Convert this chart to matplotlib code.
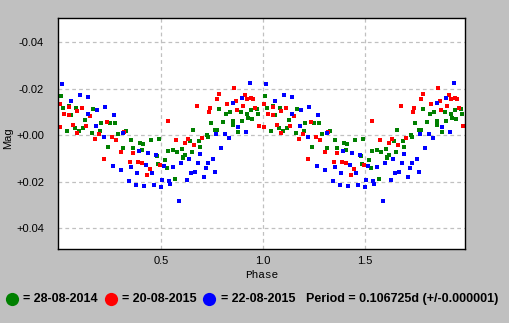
import numpy as np
import matplotlib.pyplot as plt
from matplotlib.lines import Line2D

# phase-folded photometry, one cycle per series (drawn twice, 0-1 and 1-2)
green_phase = [0.011, 0.021, 0.048, 0.085, 0.059, 0.041, 0.080, 0.098, 0.119, 0.129,
               0.168, 0.204, 0.163, 0.201, 0.251, 0.276, 0.288, 0.328, 0.242, 0.315,
               0.353, 0.364, 0.399, 0.413, 0.407, 0.452, 0.492, 0.480, 0.521, 0.536,
               0.560, 0.577, 0.601, 0.609, 0.616, 0.653, 0.655, 0.688, 0.693, 0.727,
               0.732, 0.765, 0.776, 0.747, 0.786, 0.804, 0.817, 0.840, 0.851, 0.851,
               0.877, 0.891, 0.897, 0.922, 0.928, 0.943, 0.948, 0.977, 0.971, 0.485,
               0.528, 0.570, 0.606, 0.642]
green_mag = [-0.0170, -0.0119, -0.0126, -0.0119, -0.0089, -0.0020, -0.0030, -0.0020, -0.0033, -0.0067,
             -0.0114, -0.0054, -0.0011, -0.0020, -0.0054, -0.0054, -0.0007, -0.0020, 0.0049, 0.0053,
             0.0019, 0.0053, 0.0032, 0.0036, 0.0062, 0.0019, 0.0015, 0.0088, 0.0105, 0.0066,
             0.0062, 0.0071, 0.0058, 0.0092, 0.0083, 0.0071, -0.0024, 0.0023, 0.0049, -0.0003,
             0.0006, -0.0024, -0.0024, -0.0054, -0.0114, -0.0058, -0.0093, -0.0102, -0.0063, -0.0046,
             -0.0015, -0.0102, -0.0063, -0.0093, -0.0076, -0.0110, -0.0071, -0.0093, -0.0114, 0.0122,
             0.0139, 0.0187, 0.0096, 0.0025]

red_phase = [0.006, 0.005, 0.026, 0.048, 0.050, 0.088, 0.113, 0.153, 0.069, 0.090,
             0.132, 0.178, 0.196, 0.235, 0.261, 0.281, 0.320, 0.302, 0.364, 0.221,
             0.534, 0.575, 0.619, 0.634, 0.660, 0.678, 0.701, 0.740, 0.737, 0.775,
             0.786, 0.825, 0.858, 0.868, 0.874, 0.910, 0.903, 0.922, 0.943, 0.950,
             0.961, 0.982, 0.348, 0.387, 0.408, 0.431, 0.445, 0.495]
red_mag = [-0.0136, -0.0037, -0.0093, -0.0089, -0.0123, -0.0106, -0.0119, -0.0084, -0.0046, -0.0011,
           -0.0041, 0.0015, -0.0007, -0.0058, 0.0006, 0.0019, -0.0015, 0.0071, 0.0075, 0.0101,
           -0.0063, 0.0019, 0.0032, 0.0015, 0.0040, -0.0127, 0.0010, -0.0119, -0.0102, -0.0157,
           -0.0179, -0.0136, -0.0205, -0.0149, -0.0110, -0.0175, -0.0127, -0.0157, -0.0162, -0.0157,
           -0.0119, -0.0041, 0.0114, 0.0114, 0.0118, 0.0169, 0.0144, 0.0126]

blue_phase = [0.015, 0.104, 0.059, 0.144, 0.227, 0.144, 0.188, 0.271, 0.183, 0.222,
              0.312, 0.394, 0.438, 0.477, 0.936, 0.899, 0.854, 0.879, 0.918, 0.770,
              0.815, 0.835, 0.794, 0.691, 0.639, 0.756, 0.266, 0.304, 0.353, 0.382,
              0.345, 0.377, 0.417, 0.426, 0.456, 0.466, 0.500, 0.505, 0.515, 0.541,
              0.546, 0.557, 0.598, 0.588, 0.626, 0.647, 0.667, 0.681, 0.711, 0.721,
              0.732, 0.765]
blue_mag = [-0.0222, -0.0175, -0.0149, -0.0166, -0.0123, -0.0093, -0.0109, -0.0089, -0.0041, 0.0006,
            -0.0011, 0.0066, 0.0075, 0.0083, -0.0226, -0.0162, -0.0140, -0.0037, -0.0015, -0.0007,
            -0.0007, 0.0010, 0.0053, 0.0079, 0.0101, 0.0101, 0.0131, 0.0148, 0.0135, 0.0161,
            0.0195, 0.0212, 0.0217, 0.0126, 0.0161, 0.0212, 0.0221, 0.0191, 0.0131, 0.0195,
            0.0208, 0.0135, 0.0118, 0.0281, 0.0191, 0.0161, 0.0157, 0.0118, 0.0178, 0.0139,
            0.0118, 0.0157]

series = [
    (green_phase, green_mag, '#008000', '= 28-08-2014'),
    (red_phase, red_mag, '#ff0000', '= 20-08-2015'),
    (blue_phase, blue_mag, '#0000ff', '= 22-08-2015'),
]
period_text = 'Period = 0.106725d (+/-0.000001)'

y_ticks = [-0.04, -0.02, 0.0, 0.02, 0.04]
y_labels = ['-0.04', '-0.02', '+0.00', '+0.02', '+0.04']
x_ticks = [0.5, 1.0, 1.5]
x_labels = ['0.5', '1.0', '1.5']

plt.rcParams['font.family'] = ['Liberation Sans', 'DejaVu Sans']

fig = plt.figure(figsize=(5.10, 3.23), dpi=100, facecolor='#c0c0c0')
ax = fig.add_axes([58 / 510, 74 / 323, 407 / 510, 231 / 323])
ax.set_facecolor('white')

for ph, mag, col, _ in series:
    ph = np.asarray(ph)
    mag = np.asarray(mag)
    ax.plot(np.concatenate([ph, ph + 1]), np.concatenate([mag, mag]),
            linestyle='none', marker='s', markersize=3, color=col, markeredgewidth=0)

ax.set_xlim(-0.005, 1.99)
ax.set_ylim(0.0489, -0.0505)
ax.set_xticks(x_ticks)
ax.set_xticklabels(x_labels)
ax.set_yticks(y_ticks)
ax.set_yticklabels(y_labels)
ax.tick_params(axis='both', length=0, labelsize=8, colors='black')
ax.tick_params(axis='y', pad=10)
ax.tick_params(axis='x', pad=5)
ax.grid(True, color='#c0c0c0', linestyle=(0, (3, 2.5)), linewidth=0.9)
ax.set_axisbelow(True)
for sp in ax.spines.values():
    sp.set_color('black')
    sp.set_linewidth(1.0)

ax.set_xlabel('Phase', family='Liberation Mono', fontsize=8, labelpad=3)
fig.text(8 / 510, 1 - 138 / 323, 'Mag', rotation=90, ha='center', va='center', fontsize=8)

# legend row along the bottom
ly = 1 - 298.7 / 323
circle_x = [11.7, 110.8, 209.3]
text_x = [23.3, 122.3, 220.7]
for (_, _, col, label), cx, tx in zip(series, circle_x, text_x):
    fig.add_artist(Line2D([cx / 510], [ly], marker='o', markersize=9.5, color=col,
                          markeredgewidth=0, transform=fig.transFigure))
    fig.text(tx / 510, ly, label, ha='left', va='center', fontsize=9, fontweight='bold')
fig.text(305.7 / 510, ly, period_text, ha='left', va='center', fontsize=9, fontweight='bold')

fig.savefig('out.png', dpi=100, facecolor=fig.get_facecolor())
